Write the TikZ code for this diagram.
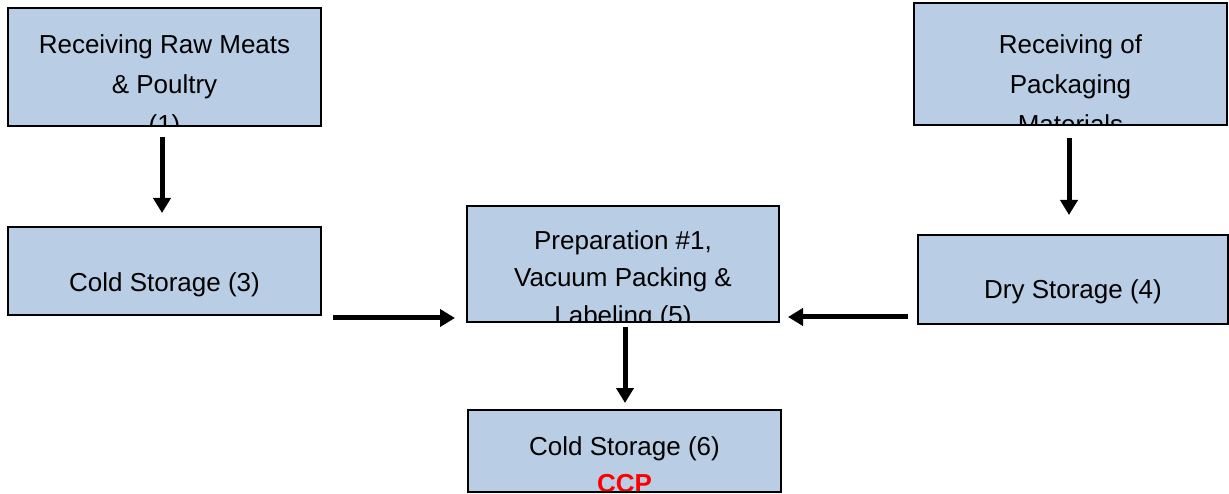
\documentclass[tikz,border=0pt]{standalone}
\usepackage{fontspec}
\setmainfont{Liberation Sans}
\usetikzlibrary{arrows.meta}
\definecolor{boxfill}{RGB}{185,205,229}
\definecolor{ccpred}{RGB}{255,0,0}
\tikzset{
  flowbox/.style={draw=black, line width=1.6pt, fill=boxfill, rectangle,
    inner sep=0pt, outer sep=0pt, anchor=north west},
  txt/.style={anchor=base, inner sep=0pt, font=\fontsize{26}{40}\selectfont},
  ccptxt/.style={txt, text=ccpred, font=\fontsize{26}{40}\selectfont\bfseries},
  flowarrow/.style={line width=5pt, -{Triangle[length=15pt,width=17pt]}}
}
\newcommand{\boxline}[2]{\node[txt] at ([yshift=-#1pt]path picture bounding box.north) {#2};}
\begin{document}
\begin{tikzpicture}[x=1pt,y=-1pt]
\useasboundingbox (0,0) rectangle (1229,494);

\node[flowbox, minimum width=313pt, minimum height=118pt,
  path picture={\boxline{46}{Receiving Raw Meats}\boxline{86}{\& Poultry}\boxline{126}{(1)}}]
  (b1) at (8,8) {};
\node[flowbox, minimum width=313pt, minimum height=122pt,
  path picture={\boxline{51}{Receiving of}\boxline{91}{Packaging}\boxline{131}{Materials}}]
  (b2) at (914,3) {};
\node[flowbox, minimum width=313pt, minimum height=88pt,
  path picture={\boxline{65}{Cold Storage (3)}}]
  (b3) at (8,227) {};
\node[flowbox, minimum width=310pt, minimum height=89pt,
  path picture={\boxline{64}{Dry Storage (4)}}]
  (b4) at (918,235) {};
\node[flowbox, minimum width=312pt, minimum height=116pt,
  path picture={\boxline{44}{Preparation \#1,}\boxline{81}{Vacuum Packing \&}\boxline{119}{Labeling (5)}}]
  (b5) at (467,206) {};
\node[flowbox, minimum width=313pt, minimum height=82pt,
  path picture={\boxline{45}{Cold Storage (6)}\node[ccptxt] at ([yshift=-82pt]path picture bounding box.north) {CCP};}]
  (b6) at (468,410) {};

\draw[flowarrow, shorten <=11pt, shorten >=14pt] ([xshift=-2.5pt]b1.south) -- ([xshift=-2.5pt]b3.north);
\draw[flowarrow, shorten <=13pt, shorten >=20pt] ([xshift=-1.5pt]b2.south) -- ([xshift=-4pt]b4.north);
\draw[flowarrow] ([shift={(12,3)}]b3.south east) -- ([shift={(-12,-4)}]b5.south west);
\draw[flowarrow] ([shift={(-10,-7)}]b4.south west) -- ([shift={(9,-5)}]b5.south east);
\draw[flowarrow, shorten <=5pt, shorten >=7pt] ([xshift=2pt]b5.south) -- ([xshift=0.5pt]b6.north);
\end{tikzpicture}
\end{document}
